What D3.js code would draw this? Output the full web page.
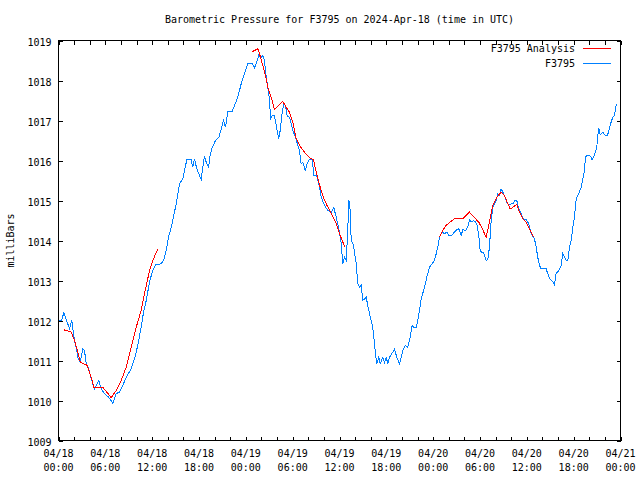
<!DOCTYPE html>
<html><head><meta charset="utf-8">
<script src="https://cdn.jsdelivr.net/npm/d3@7"></script>
<style>
body{margin:0;background:#fff;}
text{font-family:"DejaVu Sans Mono",monospace;font-size:10px;fill:#000;}
</style></head>
<body><svg id="c" width="640" height="480"></svg>
<script>
// ---- data (hours after 2024-04-18 00:00 UTC) ----
const stationHours = [0.0,0.38,0.68,1.02,1.41,1.70,2.05,2.27,2.47,2.78,3.11,3.33,3.55,3.88,4.19,4.61,4.83,5.16,5.47,5.89,6.32,6.62,6.96,7.39,7.81,8.24,8.67,9.31,9.74,10.16,10.59,10.89,11.24,11.66,12.00,12.43,13.16,13.45,13.80,14.09,14.44,14.64,15.08,15.50,15.92,16.44,17.00,17.20,17.42,17.72,17.97,18.28,18.49,18.70,18.92,19.22,19.43,19.69,20.11,20.54,20.84,21.14,21.39,21.69,22.25,22.55,22.97,23.41,23.83,24.25,24.81,25.11,25.40,25.66,25.97,26.17,26.39,26.61,26.81,27.03,27.16,27.38,27.67,27.97,28.22,28.40,28.66,28.86,29.08,29.30,29.59,29.81,30.02,30.36,30.66,30.87,31.09,31.30,31.60,31.86,32.16,32.50,32.73,33.09,33.44,33.65,34.08,34.50,34.94,35.27,35.58,35.91,36.22,36.42,36.64,36.86,37.06,37.19,37.37,37.50,37.79,38.14,38.34,38.56,38.78,38.98,39.42,39.75,40.06,40.26,40.48,40.61,40.78,41.03,41.21,41.55,41.76,41.98,42.19,42.40,42.83,43.04,43.34,43.69,44.11,44.45,44.75,45.06,45.31,45.48,45.82,46.03,46.25,46.46,46.89,47.18,47.53,48.17,48.39,48.59,48.81,49.15,49.45,49.74,50.00,50.31,50.73,51.03,51.28,51.59,51.79,52.14,52.43,52.65,52.87,53.17,53.42,53.59,53.84,54.02,54.23,54.45,54.79,55.00,55.21,55.43,55.64,56.07,56.28,56.50,56.71,56.92,57.14,57.43,57.69,57.99,58.29,58.42,58.71,58.97,59.27,59.57,59.92,60.25,60.56,60.98,61.20,61.40,61.62,61.84,62.48,62.68,62.99,63.32,63.54,63.76,64.09,64.40,64.61,64.82,65.04,65.25,65.46,65.68,65.89,66.10,66.32,66.65,66.96,67.17,67.39,67.51,67.81,68.15,68.37,68.54,68.79,68.96,69.09,69.22,69.40,69.73,70.07,70.33,70.50,70.80,71.01,71.23,71.44,71.57];
const stationValues = [1012.0,1012.0,1012.19,1012.0,1011.8,1012.0,1011.5,1011.33,1011.08,1010.96,1011.29,1011.25,1010.92,1010.79,1010.54,1010.29,1010.38,1010.5,1010.29,1010.17,1010.1,1010.04,1009.92,1010.17,1010.21,1010.38,1010.58,1010.79,1011.04,1011.38,1011.83,1012.2,1012.5,1012.96,1013.21,1013.39,1013.42,1013.5,1013.75,1014.08,1014.33,1014.5,1014.92,1015.42,1015.54,1016.02,1016.02,1015.83,1016.04,1015.79,1015.67,1015.52,1015.83,1016.1,1015.96,1015.83,1016.13,1016.32,1016.5,1016.58,1016.77,1017.0,1016.83,1017.22,1017.23,1017.38,1017.58,1017.92,1018.17,1018.42,1018.42,1018.32,1018.46,1018.63,1018.58,1018.62,1018.5,1018.08,1017.83,1017.54,1017.04,1017.12,1017.12,1016.79,1016.54,1016.75,1017.21,1017.42,1017.38,1017.12,1017.08,1016.92,1016.75,1016.58,1016.38,1016.25,1015.92,1015.96,1015.75,1015.92,1016.03,1016.03,1015.62,1015.62,1015.33,1015.08,1014.88,1014.75,1014.71,1014.82,1014.58,1014.29,1013.92,1013.42,1013.58,1013.5,1014.25,1015.02,1014.75,1014.0,1013.88,1013.42,1012.92,1012.83,1012.88,1012.5,1012.58,1012.25,1012.0,1011.83,1011.42,1011.17,1010.92,1011.08,1010.92,1011.08,1010.95,1011.08,1010.92,1011.08,1011.21,1011.29,1011.08,1010.92,1011.25,1011.38,1011.33,1011.58,1011.88,1011.83,1011.83,1012.0,1012.25,1012.54,1012.83,1013.08,1013.33,1013.5,1013.67,1013.83,1014.08,1014.21,1014.17,1014.21,1014.12,1014.12,1014.21,1014.27,1014.29,1014.12,1014.27,1014.25,1014.33,1014.52,1014.46,1014.5,1014.46,1014.42,1014.12,1013.75,1013.71,1013.71,1013.5,1013.52,1013.83,1014.5,1014.83,1015.0,1015.17,1015.12,1015.29,1015.21,1015.12,1014.96,1014.88,1014.92,1014.92,1015.0,1015.0,1014.79,1014.67,1014.52,1014.52,1014.42,1014.17,1014.04,1013.83,1013.58,1013.38,1013.29,1013.29,1013.17,1013.02,1012.98,1012.9,1013.18,1013.25,1013.38,1013.67,1013.58,1013.5,1013.5,1013.83,1014.0,1014.33,1014.58,1015.04,1015.17,1015.33,1015.54,1015.75,1016.1,1016.13,1016.11,1016.02,1016.08,1016.21,1016.33,1016.62,1016.82,1016.65,1016.71,1016.62,1016.62,1016.75,1016.96,1017.08,1017.12,1017.38,1017.42];
// analysis series; null marks a gap between runs
const analysisHours = [0.64,1.63,2.05,2.47,2.78,3.11,3.68,4.19,4.52,5.68,6.19,6.75,7.39,8.03,8.67,9.31,9.95,10.59,11.02,11.66,12.08,12.72,18.0,
 24.81,25.53,25.75,26.17,26.52,26.81,27.25,27.67,28.22,28.73,29.17,29.59,30.02,30.45,30.87,31.51,32.16,32.67,33.01,33.53,33.86,34.29,34.94,35.58,36.00,36.42,36.73,42.0,
 48.81,49.23,49.66,50.31,50.73,51.79,52.65,53.29,53.84,54.36,54.79,55.21,55.64,56.15,56.71,57.14,57.56,57.87,58.20,58.71,59.06,59.48,59.92,60.34,60.85];
const analysisValues = [1011.77,1011.71,1011.5,1011.21,1010.96,1010.93,1010.88,1010.58,1010.33,1010.33,1010.21,1010.07,1010.25,1010.5,1010.83,1011.33,1011.83,1012.25,1012.67,1013.25,1013.5,1013.79,null,
 1018.72,1018.79,1018.67,1018.38,1018.12,1017.83,1017.58,1017.28,1017.38,1017.48,1017.33,1017.21,1016.96,1016.55,1016.38,1016.21,1016.07,1016.02,1015.71,1015.33,1015.12,1014.92,1014.67,1014.42,1014.17,1013.96,1013.83,null,
 1014.08,1014.25,1014.38,1014.48,1014.54,1014.54,1014.71,1014.57,1014.46,1014.27,1014.08,1014.46,1014.88,1015.08,1015.21,1015.12,1014.92,1014.79,1014.83,1014.9,1014.71,1014.54,1014.46,1014.29,1014.08];
const yTickValues = [1009,1010,1011,1012,1013,1014,1015,1016,1017,1018,1019];
const startUTC = Date.UTC(2024,3,18,0,0);
const endUTC = Date.UTC(2024,3,21,0,0);
const titleText = "Barometric Pressure for F3795 on 2024-Apr-18 (time in UTC)";
const yLabelText = "milliBars";
const seriesNames = ["F3795 Analysis","F3795"];
const seriesColors = ["#ff0000","#0080ff"];

// ---- chart ----
const svg = d3.select("#c");
const L=58.5, R=620.5, T=40.5, B=440.5;
const toDate = h => new Date(startUTC + h*3600e3);
const x = d3.scaleUtc().domain([new Date(startUTC), new Date(endUTC)]).range([L,R]);
const y = d3.scaleLinear().domain([1009,1019]).range([B,T]);

const minorTicks = d3.utcHour.every(2).range(new Date(startUTC), new Date(endUTC+1));
const majorTicks = d3.utcHour.every(6).range(new Date(startUTC), new Date(endUTC+1));

const axG = svg.append("g").attr("shape-rendering","crispEdges");
function styleAxis(g){ g.select(".domain").remove(); g.selectAll("line").attr("stroke","#000"); }
axG.append("g").attr("transform",`translate(0,${B})`)
  .call(d3.axisBottom(x).tickValues(minorTicks).tickSize(-4).tickFormat("")).call(styleAxis);
axG.append("g").attr("transform",`translate(0,${T})`)
  .call(d3.axisTop(x).tickValues(minorTicks).tickSize(-4).tickFormat("")).call(styleAxis);
const yl = axG.append("g").attr("transform",`translate(${L},0)`)
  .call(d3.axisLeft(y).tickValues(yTickValues).tickSize(-4).tickPadding(7).tickFormat(d3.format("d"))).call(styleAxis);
yl.selectAll("text").attr("dy","0.45em");
axG.append("g").attr("transform",`translate(${R},0)`)
  .call(d3.axisRight(y).tickValues(yTickValues).tickSize(-4).tickFormat("")).call(styleAxis);
svg.selectAll("g").attr("font-family",null).attr("font-size",null);

axG.append("rect").attr("x",L).attr("y",T).attr("width",R-L).attr("height",B-T)
  .attr("fill","none").attr("stroke","#000");

// x labels, two lines
const fmt1 = d3.utcFormat("%m/%d"), fmt2 = d3.utcFormat("%H:%M");
const xl = svg.append("g").selectAll("text").data(majorTicks).join("text")
  .attr("text-anchor","middle").attr("x",d=>x(d)).attr("y",457);
xl.append("tspan").attr("x",d=>x(d)).text(fmt1);
xl.append("tspan").attr("x",d=>x(d)).attr("dy",14).text(fmt2);

// title and y label
svg.append("text").attr("x",(L+R)/2).attr("y",23).attr("text-anchor","middle").text(titleText);
svg.append("text").attr("transform",`translate(14,${(T+B)/2}) rotate(-90)`).attr("text-anchor","middle").text(yLabelText);

// lines
const lineGen = d3.line().defined(d=>d[1]!=null).x(d=>x(toDate(d[0]))).y(d=>y(d[1]));
const stationData = d3.zip(stationHours, stationValues);
const analysisData = d3.zip(analysisHours, analysisValues);
svg.append("path").datum(stationData).attr("d",lineGen).attr("fill","none")
  .attr("stroke",seriesColors[1]).attr("stroke-width",1).attr("shape-rendering","crispEdges");
svg.append("path").datum(analysisData).attr("d",lineGen).attr("fill","none")
  .attr("stroke",seriesColors[0]).attr("stroke-width",1).attr("shape-rendering","crispEdges");

// legend
const leg = svg.append("g");
seriesNames.forEach((n,i)=>{
  const yy = 48.5 + i*15;
  leg.append("text").attr("x",575).attr("y",yy+3.5).attr("text-anchor","end").text(n);
  leg.append("line").attr("x1",583).attr("x2",611).attr("y1",yy).attr("y2",yy)
    .attr("stroke",seriesColors[i]).attr("shape-rendering","crispEdges");
});
</script></body></html>
